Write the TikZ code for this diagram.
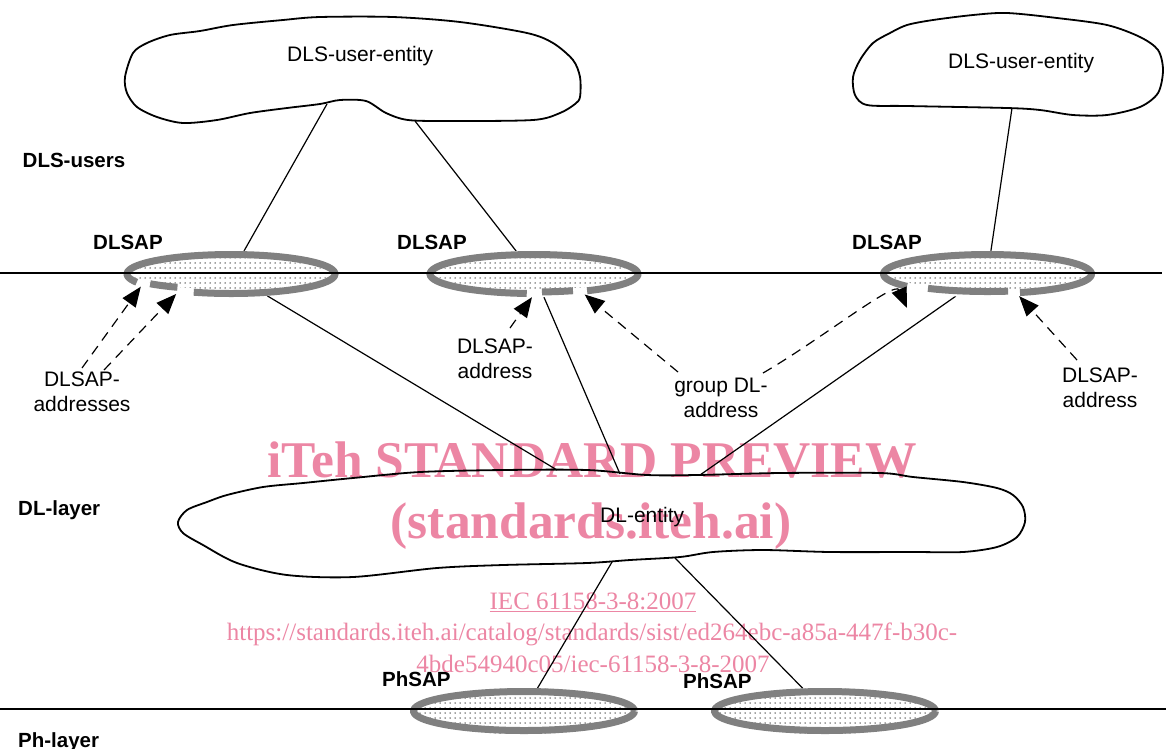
\documentclass[tikz,border=0pt]{standalone}
\usepackage{fontspec}
\setmainfont{Liberation Sans}
\newfontfamily\wmfont{Liberation Serif}
\usetikzlibrary{shapes.geometric,arrows.meta,patterns.meta}
\definecolor{wmpink}{RGB}{236,134,164}
\definecolor{rimgray}{RGB}{128,128,128}

\tikzset{
  cloudline/.style={line width=1.8pt, line join=round},
  link/.style={line width=1.2pt},
  layerline/.style={line width=1.3pt},
  sap/.style={ellipse, draw=none, inner sep=0pt, minimum width=215pt, minimum height=46pt,
    pattern={Dots[distance=5pt,radius=0.75pt]}, pattern color=black!75},
  phsap/.style={sap, minimum width=228pt},
  rim/.style={draw=rimgray, line width=7pt},
  rimgap/.style={draw=white, line width=7.5pt},
  dasharrow/.style={line width=1.2pt, dash pattern=on 10pt off 7pt,
    -{Triangle[length=20pt,width=16pt]}},
  lbl/.style={inner sep=0pt, font=\fontsize{21}{25.5}\selectfont},
  boldlbl/.style={inner sep=0pt, font=\fontsize{20.5}{24}\selectfont\bfseries},
  wm/.style={inner sep=0pt, text=wmpink},
}

% part of the grey rim of a service access point: node, start, end, x radius, y radius
\newcommand\rimpart[6][rim]{%
  \draw[#1, shift={(#2.center)}] plot[domain=#3:#4, samples=70, smooth]
    ({#5*cos(\x)},{#6*sin(\x)});}

\begin{document}
\begin{tikzpicture}[x=1pt,y=-1pt]
\useasboundingbox (0,0) rectangle (1166,748);

% ---- watermark text
\node[wm, anchor=base, font=\wmfont\bfseries\fontsize{51.5}{55}\selectfont] (wm1) at (592,477) {iTeh STANDARD PREVIEW};
\node[wm, anchor=base, font=\wmfont\bfseries\fontsize{51.5}{55}\selectfont] (wm2) at (591,538) {(standards.iteh.ai)};
\node[wm, anchor=base, font=\wmfont\fontsize{25}{28}\selectfont] (wm3) at (593,609) {\underline{IEC 61158-3-8:2007}};
\node[wm, anchor=base, font=\wmfont\fontsize{25}{28}\selectfont] (wm4) at (592,640) {https://standards.iteh.ai/catalog/standards/sist/ed264ebc-a85a-447f-b30c-};
\node[wm, anchor=base, font=\wmfont\fontsize{25}{28}\selectfont] (wm5) at (593,672) {4bde54940c05/iec-61158-3-8-2007};

% ---- entity clouds
\draw[cloudline] plot[smooth cycle, tension=0.5] coordinates {
  (125,77) (133,53) (147,43) (170,35) (200,31) (233,25) (283,20) (320,17)
  (393,17) (460,22) (527,33) (553,43) (573,60) (580,77) (580,97) (575,104)
  (560,113) (533,120) (450,121) (408,120) (386,113) (366,101) (340,100)
  (320,104) (287,108) (250,113) (217,120) (183,123) (157,117) (137,107) (127,93)};
\draw[cloudline] plot[smooth cycle, tension=0.5] coordinates {
  (853,77) (860,60) (873,43) (890,33) (907,25) (933,20) (973,15) (1007,13)
  (1057,18) (1107,25) (1140,37) (1158,50) (1163,70) (1158,93) (1140,107)
  (1107,115) (1073,115) (1040,110) (1007,108) (907,106) (867,105) (855,95)};
\draw[cloudline] plot[smooth cycle, tension=0.5] coordinates {
  (178,522) (187,510) (207,502) (227,495) (263,487) (303,483) (353,478)
  (420,472) (503,470) (587,470) (647,475) (697,475) (780,473) (880,473)
  (913,477) (963,482) (997,488) (1013,495) (1023,507) (1025,522) (1017,537)
  (997,547) (963,552) (913,552) (830,552) (763,550) (713,552) (680,557)
  (630,560) (587,563) (503,565) (437,568) (353,577) (287,575) (237,563)
  (203,545) (183,533)};

% attachment points on the clouds
\coordinate (u1a) at (327,104);
\coordinate (u1b) at (415,121);
\coordinate (u2a) at (1012,108);
\coordinate (e1) at (557,470);
\coordinate (e2) at (620,474);
\coordinate (e3) at (700,475);
\coordinate (e4) at (612,562);
\coordinate (e5) at (675,558);

% ---- service access points
\node[sap] (sap1) at (231,274) {};
\node[sap] (sap2) at (534,274) {};
\node[sap] (sap3) at (987.5,274) {};
\node[phsap] (phs1) at (524,711) {};
\node[phsap] (phs2) at (825,711) {};

% ---- links between entities and access points
\draw[link] (u1a) -- (sap1);
\draw[link] (u1b) -- (sap2);
\draw[link] (u2a) -- (sap3);
\draw[link] (sap1) -- (e1);
\draw[link] (sap2) -- (e2);
\draw[link] (sap3) -- (e3);
\draw[link] (e4) -- (phs1);
\draw[link] (e5) -- (phs2);

% ---- grey rims (with openings where the address arrows point)
\rimpart[rimgap]{sap1}{0}{360}{104}{19.5}
\rimpart{sap1}{155}{471}{104}{19.5}
\rimpart{sap1}{121}{141}{104}{15.5}
\rimpart[rimgap]{sap2}{0}{360}{104}{19.5}
\rimpart{sap2}{94}{419.3}{104}{19.5}
\rimpart{sap2}{68}{85.6}{104}{18}
\rimpart[rimgap]{sap3}{0}{360}{104}{19.5}
\rimpart{sap3}{140.7}{431.8}{104}{19.5}
\rimpart{sap3}{78.6}{124.9}{104}{17.5}
\rimpart{phs1}{0}{360}{110.5}{19.5}
\rimpart{phs2}{0}{360}{110.5}{19.5}

% ---- layer boundaries
\coordinate (l1w) at (0,273);
\coordinate (l1e) at (1162,273);
\coordinate (l2w) at (0,709);
\coordinate (l2e) at (1166,709);
\draw[layerline] (l1w) -- (l1e);
\draw[layerline] (l2w) -- (l2e);

% ---- labels
\node[boldlbl, anchor=base west] (dlsusers) at (22.5,167) {DLS-users};
\node[boldlbl, anchor=base west] (dlsapa) at (93,249) {DLSAP};
\node[boldlbl, anchor=base west] (dlsapb) at (397,249) {DLSAP};
\node[boldlbl, anchor=base west] (dlsapc) at (852,249) {DLSAP};
\node[boldlbl, anchor=base west] (dllayer) at (18,515) {DL-layer};
\node[boldlbl, anchor=base west] (phlayer) at (18,747) {Ph-layer};
\node[boldlbl, anchor=base west] (phsapa) at (382,686) {PhSAP};
\node[boldlbl, anchor=base west] (phsapb) at (683,688) {PhSAP};

\node[lbl, anchor=base west] (ue1) at (287,61) {DLS-user-entity};
\node[lbl, anchor=base west] (ue2) at (948,68) {DLS-user-entity};
\node[lbl, anchor=base west] (dle) at (600,522) {DL-entity};

\node[lbl, align=center] (addrs) at (82,392) {DLSAP-\\addresses};
\node[lbl, align=center] (addrm) at (495,359) {DLSAP-\\address};
\node[lbl, align=center] (grp) at (721,398) {group DL-\\address};
\node[lbl, align=center] (addrr) at (1100,388) {DLSAP-\\address};

% ---- address arrows
\coordinate (as1) at (82,368);
\coordinate (as2) at (104,370);
\coordinate (am) at (510,328);
\coordinate (gl) at (678,372);
\coordinate (gr) at (763,373);
\coordinate (gtip) at (907,308);
\coordinate (ar) at (1077,360);
\draw[dasharrow] (as1) -- (sap1.188);
\draw[dasharrow] (as2) -- (sap1.200);
\draw[dasharrow] (am) -- (sap2.265);
\draw[dasharrow] (gl) -- (sap2.338);
\draw[dasharrow] (gr) .. controls (820,340) and (895,280) .. (gtip);
\draw[dasharrow] (ar) -- (sap3.325);
\end{tikzpicture}
\end{document}
